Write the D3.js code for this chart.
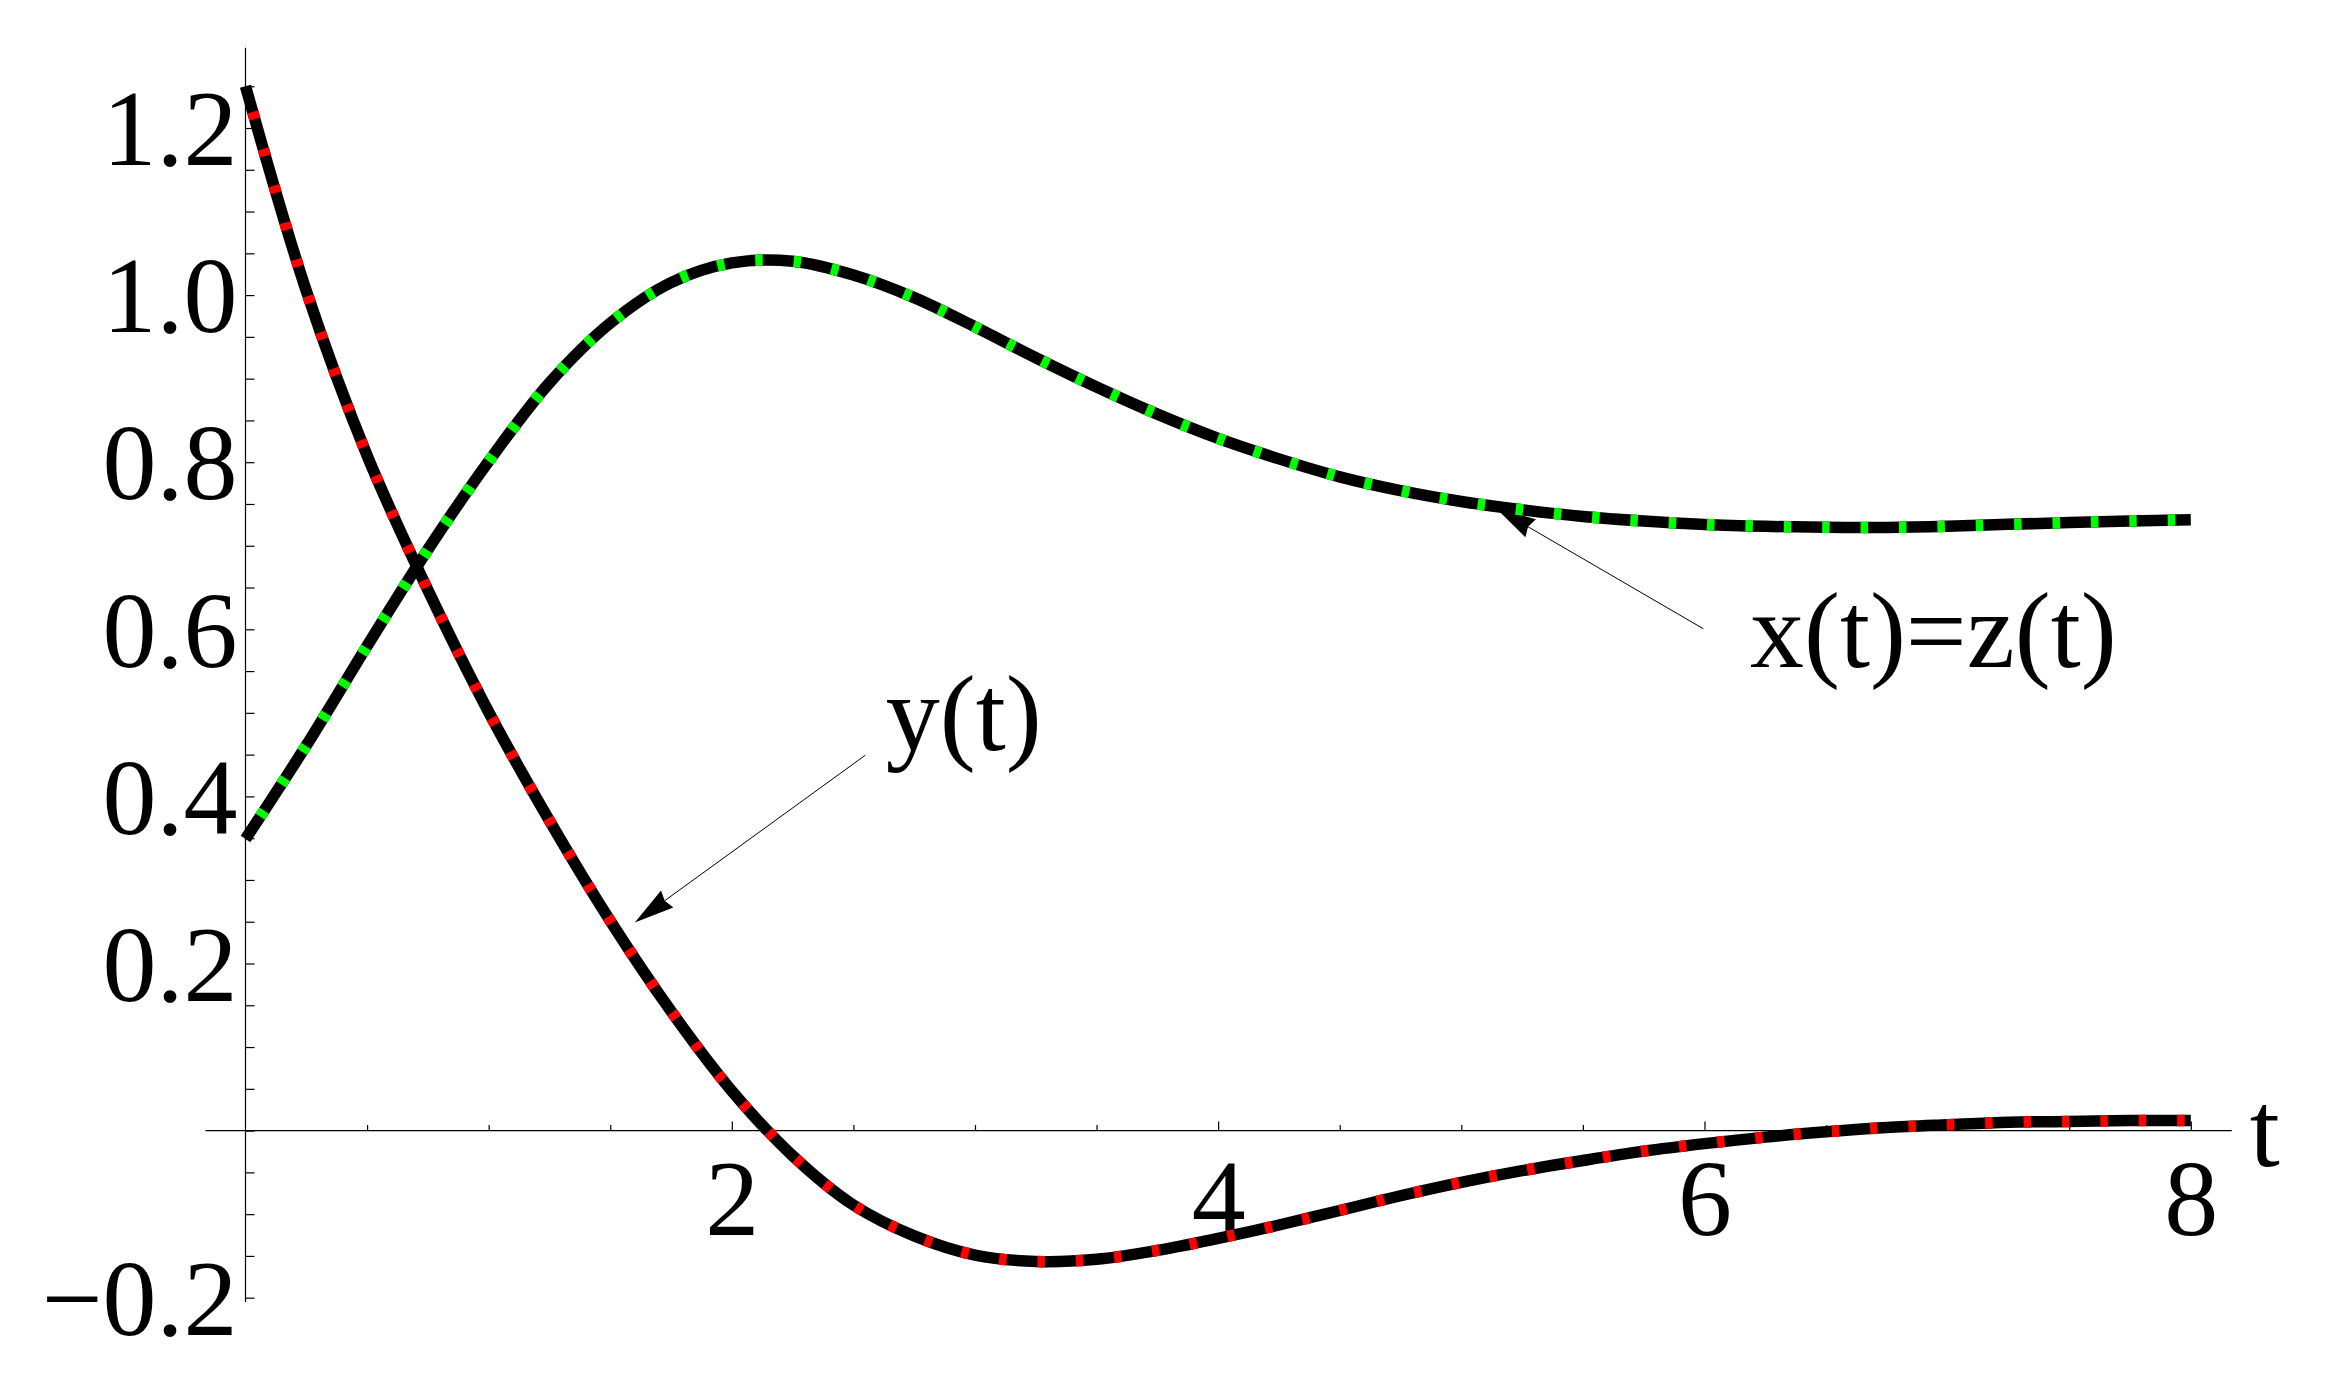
<!DOCTYPE html>
<html>
<head>
<meta charset="utf-8">
<script src="https://d3js.org/d3.v7.min.js"></script>
<style>
  html, body { margin: 0; padding: 0; background: #fff; }
  svg { display: block; }
</style>
</head>
<body>
<svg id="chart" width="2325" height="1381"></svg>
<script>
// Valori (passo 0.25 in t)
const tValues = [0, 0.25, 0.5, 0.75, 1, 1.25, 1.5, 1.75, 2, 2.25, 2.5, 2.75, 3, 3.25, 3.5, 3.75,
  4, 4.25, 4.5, 4.75, 5, 5.25, 5.5, 5.75, 6, 6.25, 6.5, 6.75, 7, 7.25, 7.5, 7.75, 8];

const yValues = [1.25, 1.005, 0.808, 0.647, 0.501, 0.371, 0.251, 0.143, 0.0475, -0.03, -0.089,
  -0.126, -0.149, -0.1566, -0.154, -0.1434, -0.129, -0.113, -0.0956, -0.078, -0.062, -0.048,
  -0.0358, -0.0246, -0.0156, -0.0078, -0.0015, 0.0036, 0.007, 0.01, 0.0109, 0.012, 0.012];

const xzValues = [0.349, 0.461, 0.58, 0.6955, 0.801, 0.895, 0.9665, 1.015, 1.0385, 1.0405, 1.024,
  0.997, 0.962, 0.925, 0.89, 0.8575, 0.8285, 0.804, 0.7825, 0.766, 0.753, 0.743, 0.735, 0.7295,
  0.7255, 0.7232, 0.722, 0.7219, 0.7233, 0.7256, 0.7277, 0.7297, 0.731];

const xTickLabels = [2, 4, 6, 8];
const yTickLabels = [-0.2, 0.2, 0.4, 0.6, 0.8, 1.0, 1.2];

// Etichette con freccia: testo, punto del testo, coda e punta della freccia (coordinate dati)
const labelTexts = ["y(t)", "x(t)=z(t)"];
const labelAnchors = [[2.633, 0.4554], [6.187, 0.5554]];
const arrowTails = [[2.549, 0.4493], [5.995, 0.6007]];
const arrowTips = [[1.601, 0.2492], [5.143, 0.745]];

const FONT = "'Liberation Serif', 'Times New Roman', Times, serif";
const FONT_SIZE = 108;

const svg = d3.select("#chart");
svg.append("rect").attr("width", 2325).attr("height", 1381).attr("fill", "#fff");

const x = d3.scaleLinear().domain([0, 8]).range([245.5, 2190.8]);
const y = d3.scaleLinear().domain([0, 1]).range([1130.6, 295.1]);

// Asse orizzontale: tacche minori ogni 0.5, maggiori con etichetta
const xMinor = d3.range(1, 16).map((d) => d / 2).filter((d) => d % 2 !== 0);

const gxMinor = svg.append("g").attr("transform", `translate(0,${y(0)})`);
gxMinor.call(d3.axisBottom(x).tickValues(xMinor).tickSize(-5.5).tickFormat(""));

const gxMajor = svg.append("g").attr("transform", `translate(0,${y(0)})`);
gxMajor.call(d3.axisBottom(x).tickValues(xTickLabels).tickSize(-9).tickFormat(d3.format("d")));

[gxMinor, gxMajor].forEach((g) => {
  g.select(".domain").remove();
  g.selectAll(".tick line").attr("stroke-width", 1.2);
});
gxMajor
  .attr("font-family", FONT)
  .attr("font-size", FONT_SIZE)
  .selectAll(".tick text")
  .attr("y", 104)
  .attr("dy", null);

// Asse verticale: tacche ogni 0.05, etichette solo sui valori principali
const yMinor = d3.range(-4, 26).map((d) => d / 20);
const isLabelled = (d) => yTickLabels.some((v) => Math.abs(v - d) < 1e-9);

const gy = svg.append("g").attr("transform", `translate(${x(0)},0)`);
gy.call(
  d3
    .axisLeft(y)
    .tickValues(yMinor)
    .tickSize(-9)
    .tickPadding(8)
    .tickFormat((d) => (isLabelled(d) ? d3.format(".1f")(d) : ""))
);
gy.select(".domain").remove();
gy.attr("font-family", FONT).attr("font-size", FONT_SIZE);
gy.selectAll(".tick line").attr("stroke-width", 1.2);
gy.selectAll(".tick text").attr("dy", "0.34em");

// Linee degli assi (si estendono oltre l'intervallo dei dati)
svg
  .append("line")
  .attr("x1", x(0) - 40)
  .attr("x2", x(8) + 41)
  .attr("y1", y(0))
  .attr("y2", y(0))
  .attr("stroke", "#000")
  .attr("stroke-width", 1.2);

svg
  .append("line")
  .attr("x1", x(0))
  .attr("x2", x(0))
  .attr("y1", y(1.296))
  .attr("y2", y(-0.205))
  .attr("stroke", "#000")
  .attr("stroke-width", 1.2);

svg
  .append("text")
  .attr("x", x(8) + 59)
  .attr("y", y(0) + 35)
  .attr("font-family", FONT)
  .attr("font-size", FONT_SIZE)
  .text("t");

// Frecce delle etichette
function drawArrow(tail, tip) {
  const x0 = x(tail[0]), y0 = y(tail[1]);
  const x1 = x(tip[0]), y1 = y(tip[1]);
  const len = Math.hypot(x0 - x1, y0 - y1);
  const ux = (x0 - x1) / len, uy = (y0 - y1) / len;
  const nx = -uy, ny = ux;
  const L = 40, W = 10.5, notch = 3;

  svg
    .append("line")
    .attr("x1", x0)
    .attr("y1", y0)
    .attr("x2", x1 + (L - notch) * ux)
    .attr("y2", y1 + (L - notch) * uy)
    .attr("stroke", "#000")
    .attr("stroke-width", 1);

  const head = [
    [x1, y1],
    [x1 + L * ux + W * nx, y1 + L * uy + W * ny],
    [x1 + (L - notch) * ux, y1 + (L - notch) * uy],
    [x1 + L * ux - W * nx, y1 + L * uy - W * ny],
  ];
  svg.append("polygon").attr("points", head.map((p) => p.join(",")).join(" ")).attr("fill", "#000");
}

arrowTails.forEach((tail, i) => drawArrow(tail, arrowTips[i]));

labelTexts.forEach((txt, i) => {
  svg
    .append("text")
    .attr("x", x(labelAnchors[i][0]))
    .attr("y", y(labelAnchors[i][1]))
    .attr("font-family", FONT)
    .attr("font-size", FONT_SIZE)
    .text(txt);
});

// Curve: linea nera spessa con trattini colorati sopra
const line = d3
  .line()
  .x((d) => x(d[0]))
  .y((d) => y(d[1]))
  .curve(d3.curveCatmullRom.alpha(0.5));

const series = [
  { values: yValues, color: "#ff0000" },
  { values: xzValues, color: "#00ff00" },
];

series.forEach((s) => {
  const pts = tValues.map((t, i) => [t, s.values[i]]);
  svg
    .append("path")
    .attr("d", line(pts))
    .attr("fill", "none")
    .attr("stroke", "#000")
    .attr("stroke-width", 11.5);
  svg
    .append("path")
    .attr("d", line(pts))
    .attr("fill", "none")
    .attr("stroke", s.color)
    .attr("stroke-width", 11.5)
    .attr("stroke-dasharray", "7.5 30.9")
    .attr("stroke-dashoffset", 11.6);
});
</script>
</body>
</html>
